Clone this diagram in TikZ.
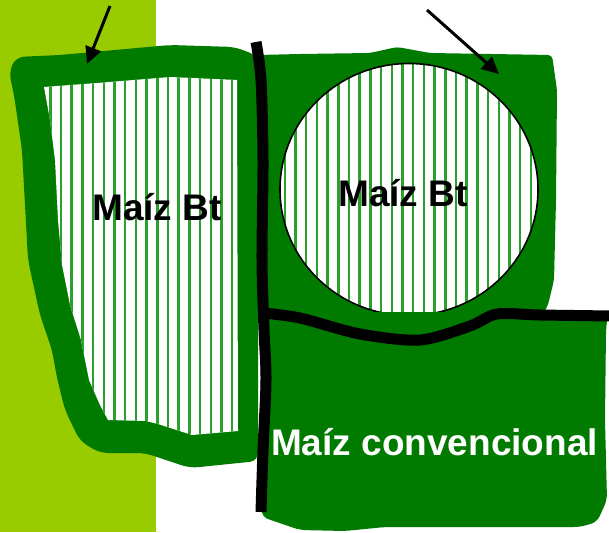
\documentclass[tikz,border=0pt]{standalone}
\usepackage{fontspec}
\setmainfont{Liberation Sans}
\usetikzlibrary{arrows.meta}
\definecolor{dg}{HTML}{007B00}
\definecolor{yg}{HTML}{99CC00}
\definecolor{st}{HTML}{2CA02C}
\begin{document}
\begin{tikzpicture}[x=1pt,y=-1pt,
  region/.style={fill=dg, draw=none},
  stripes/.style={st, line width=2.5pt},
  bline/.style={black, line width=11pt},
  lbl/.style={font=\fontsize{37}{41}\selectfont\bfseries, inner sep=0pt},
  ptr/.style={black, line width=3pt, -{Triangle[length=17pt,width=16pt]}}]
\useasboundingbox (0,0) rectangle (609,532);
\fill[white] (0,0) rectangle (609,532);
\fill[yg] (0,0) rectangle (156,532);
% left field outer border
\fill[region, rounded corners=8pt] (16,57) -- (60,55) -- (170,45) -- (235,47) -- (258,56) -- (258,461)
  -- (190,468) -- (145,453) -- (100,453) -- (80,441) -- (65,410) -- (57,378) -- (52,350)
  -- (40,315) -- (28,260) -- (22,150) -- (14,95) -- (9,72) -- cycle;
% left field inner striped
\begin{scope}
\clip (44,87) -- (110,82) -- (170,77) -- (237,80) -- (238,431) -- (192,435) -- (158,424)
  -- (146,421) -- (108,420) -- (100,405) -- (89,380) -- (81,340) -- (70,305) -- (62,265)
  -- (58,220) -- (55,160) -- (50,120) -- cycle;
\fill[white] (0,0) rectangle (300,500);
\foreach \i in {0,...,20} \draw[stripes] (50.3+\i*10.7,60) -- (50.3+\i*10.7,460);
\end{scope}
% top right field
\fill[region, rounded corners=4pt] (258,55) -- (300,54) -- (370,53) -- (397,47) -- (430,53)
  -- (552,55) -- (557,90) -- (556,200) -- (554,280) -- (548,305) -- (540,320) -- (258,320) -- cycle;
% circle
\begin{scope}
\clip (409,189.5) ellipse [x radius=129, y radius=126];
\fill[white] (270,50) rectangle (550,330);
\foreach \i in {0,...,26} \draw[stripes] (274.1+\i*10.7,50) -- (274.1+\i*10.7,330);
\end{scope}
\draw[black, line width=1.6pt] (409,189.5) ellipse [x radius=129, y radius=126];
% bottom right field
\fill[region, rounded corners=6pt] (260,312) -- (608,312) -- (606,330) -- (605,420) -- (607,500)
  -- (597,522) -- (580,527) -- (480,527) -- (385,527) -- (345,531) -- (300,530) -- (262,517) -- cycle;
% boundary lines
\draw[bline, line cap=butt] plot[smooth, tension=0.5] coordinates {(256,42) (261,80) (263,160) (262,260) (264,330) (266,380) (263,450) (261,512)};
\draw[bline] plot[smooth, tension=0.5] coordinates {(263,313) (300,318) (360,334) (420,340) (470,326) (497,314) (540,315) (612,316)};
% labels
\node[lbl] (bt1) at (157,207) {Maíz Bt};
\node[lbl] (bt2) at (403,193) {Maíz Bt};
\node[lbl, text=white] (conv) at (434.5,442) {Maíz convencional};
% pointers
\coordinate (a1s) at (110,6);
\coordinate (a1e) at (87,64);
\coordinate (a2s) at (427,10);
\coordinate (a2e) at (499,74);
\draw[ptr] (a1s) -- (a1e);
\draw[ptr] (a2s) -- (a2e);
\end{tikzpicture}
\end{document}
